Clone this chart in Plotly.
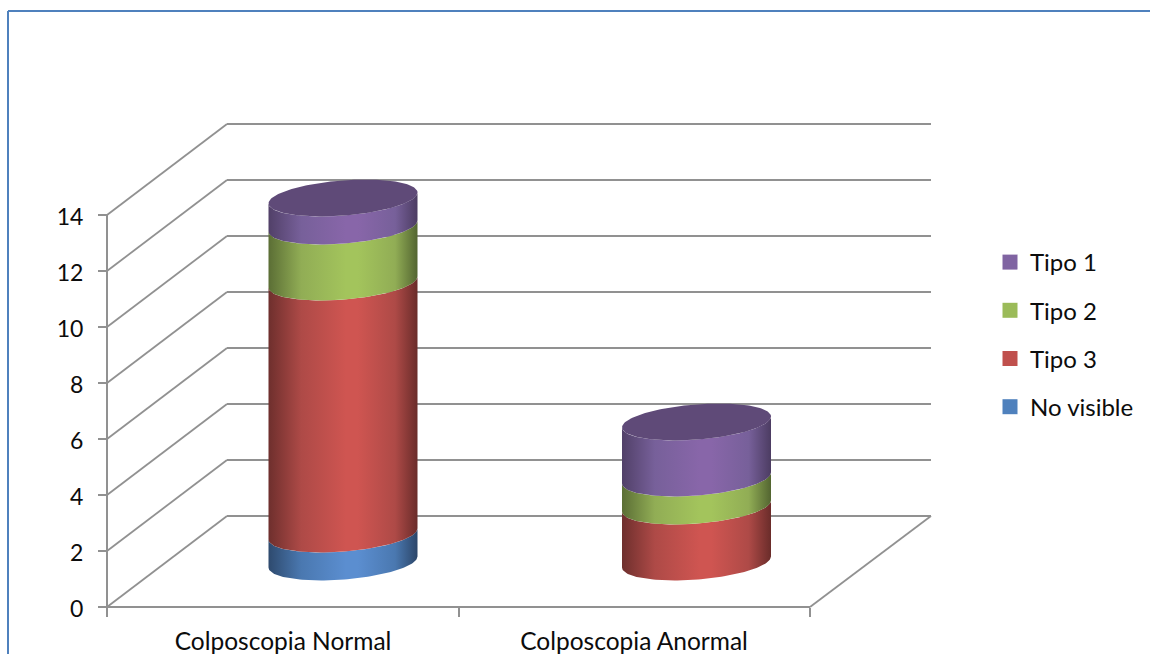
import numpy as np
import plotly.graph_objects as go

# ---- data ----
categories = ["Colposcopia Normal", "Colposcopia Anormal"]
no_visible = [1, 0]
tipo_3 = [9, 2]
tipo_2 = [2, 1]
tipo_1 = [1, 2]
series_names = ["No visible", "Tipo 3", "Tipo 2", "Tipo 1"]
y_ticks = [0, 2, 4, 6, 8, 10, 12, 14]

# ---- styles / layout constants ----
W, H = 1150, 654
PX_PER_UNIT = 28.0
Y0_PX = 607.0
FRONT_L, FRONT_R = 107, 810
CAT_TICKS = [107, 458.5, 810]
CAT_CENTERS = [283, 634]
BACK_DX, BACK_DY = 120, 91 / PX_PER_UNIT
CYL_DX = [60, 62.5]
CYL_DY = 45.0 / PX_PER_UNIT
CYL_A, CYL_B, CYL_SHEAR = 74.5, 17.6, 5.5
GRID = "#919191"
FONT = "Lato"
TXT = "#0c0c0c"

colors = {
    "No visible": dict(edgeL="#2e4a6e", mid="#4a78b0", peak="#5b8ed0", edgeR="#2c4669", cap="#3f6797", leg="#4f81bd"),
    "Tipo 3": dict(edgeL="#6e2f2d", mid="#ae4a47", peak="#cf5551", edgeR="#6a2c2a", cap="#9a3f3c", leg="#c0504d"),
    "Tipo 2": dict(edgeL="#5b6e35", mid="#91ad55", peak="#a3c45c", edgeR="#536531", cap="#7f9a48", leg="#9bbb59"),
    "Tipo 1": dict(edgeL="#514068", mid="#77609a", peak="#8866a9", edgeR="#4c3c62", cap="#5f4a78", leg="#8064a2"),
}

fig = go.Figure()


def wall_lines():
    dx, dy, hx, hy = [], [], [], []
    for v in y_ticks:
        dx += [FRONT_L, FRONT_L + BACK_DX, None]
        dy += [v, v + BACK_DY, None]
        hx += [FRONT_L + BACK_DX, FRONT_R + BACK_DX + 1, None]
        hy += [v + BACK_DY, v + BACK_DY, None]
    dx += [FRONT_R, FRONT_R + BACK_DX + 1, None]
    dy += [0, BACK_DY, None]
    return dx, dy, hx, hy


dx, dy, hx, hy = wall_lines()
fig.add_trace(go.Scatter(x=hx, y=hy, mode="lines", line=dict(color=GRID, width=2), showlegend=False, hoverinfo="skip"))
fig.add_trace(go.Scatter(x=dx, y=dy, mode="lines", line=dict(color=GRID, width=1.8), showlegend=False, hoverinfo="skip"))
fig.add_trace(go.Scatter(x=[FRONT_L, FRONT_L, None, FRONT_L, FRONT_R], y=[y_ticks[-1], 0, None, 0, 0],
                         mode="lines", line=dict(color=GRID, width=2), showlegend=False, hoverinfo="skip"))


def ellipse_y(base, t):
    # pixel offset downwards -> value units
    return base + CYL_DY - (CYL_B * np.sin(t) - CYL_SHEAR * np.cos(t)) / PX_PER_UNIT


def add_segment(cx, v0, v1, c):
    t = np.linspace(0, np.pi, 80)
    xs = np.concatenate([cx + CYL_A * np.cos(t), cx + CYL_A * np.cos(t[::-1])])
    ys = np.concatenate([ellipse_y(v0, t), ellipse_y(v1, t[::-1])])
    fig.add_trace(go.Scatter(
        x=np.append(xs, xs[0]), y=np.append(ys, ys[0]), mode="lines", fill="toself",
        line=dict(width=0), showlegend=False, hoverinfo="skip",
        fillgradient=dict(type="horizontal", colorscale=[
            [0, c["edgeL"]], [0.22, c["mid"]], [0.52, c["peak"]], [0.6, c["peak"]],
            [0.85, c["mid"]], [1, c["edgeR"]]]),
    ))


def add_cap(cx, v, c):
    t = np.linspace(0, 2 * np.pi, 160)
    fig.add_trace(go.Scatter(x=cx + CYL_A * np.cos(t), y=ellipse_y(v, t), mode="lines", fill="toself",
                             fillcolor=c["cap"], line=dict(width=0), showlegend=False, hoverinfo="skip"))


all_series = [no_visible, tipo_3, tipo_2, tipo_1]
for i in range(len(categories)):
    cx = CAT_CENTERS[i] + CYL_DX[i]
    base = 0
    last = None
    for name, vals in zip(series_names, all_series):
        if vals[i] > 0:
            add_segment(cx, base, base + vals[i], colors[name])
            base += vals[i]
            last = name
    add_cap(cx, base, colors[last])

# legend entries (top to bottom: Tipo 1 ... No visible)
for name in reversed(series_names):
    fig.add_trace(go.Scatter(x=[None], y=[None], mode="markers", name=name, legendgroup=name,
                             marker=dict(symbol="square", size=15, color=colors[name]["leg"])))

fig.update_layout(
    width=W, height=H, autosize=False,
    margin=dict(l=0, r=0, t=0, b=0),
    paper_bgcolor="white", plot_bgcolor="white",
    font=dict(family=FONT, size=24, color=TXT),
    legend=dict(x=990 / W, y=1 - 240 / H, xanchor="left", yanchor="top", traceorder="grouped",
                tracegroupgap=14, bgcolor="rgba(0,0,0,0)", font=dict(family=FONT, size=24, color=TXT),
                itemwidth=30),
    xaxis=dict(range=[0, W], domain=[0, 1], anchor="free", position=(H - Y0_PX) / H,
               showgrid=False, zeroline=False, showline=False,
               tickmode="array", tickvals=CAT_CENTERS, ticktext=categories, ticks="",
               tickfont=dict(family=FONT, size=24.5, color=TXT),
               ticklabelstandoff=17,
               minor=dict(tickmode="array", tickvals=CAT_TICKS, ticks="outside", ticklen=9, tickwidth=2,
                          tickcolor=GRID, showgrid=False)),
    yaxis=dict(range=[(Y0_PX - H) / PX_PER_UNIT, Y0_PX / PX_PER_UNIT], domain=[0, 1], anchor="free",
               position=FRONT_L / W, showgrid=False, zeroline=False, showline=False,
               tickmode="array", tickvals=y_ticks, ticks="outside", ticklen=9, tickwidth=2, tickcolor=GRID,
               tickfont=dict(family=FONT, size=23, color=TXT),
               ticklabelstandoff=10, ticklabelshift=2),
    shapes=[
        dict(type="line", xref="paper", yref="paper", x0=8 / W, x1=1, y0=1 - 11 / H, y1=1 - 11 / H,
             line=dict(color="#4f81bd", width=2)),
        dict(type="line", xref="paper", yref="paper", x0=8 / W, x1=8 / W, y0=0, y1=1 - 11 / H,
             line=dict(color="#4f81bd", width=2)),
    ],
)

fig.write_html("out.html", config=dict(displayModeBar=False),
               post_script="document.body.style.margin='0';document.documentElement.style.overflow='hidden';")
